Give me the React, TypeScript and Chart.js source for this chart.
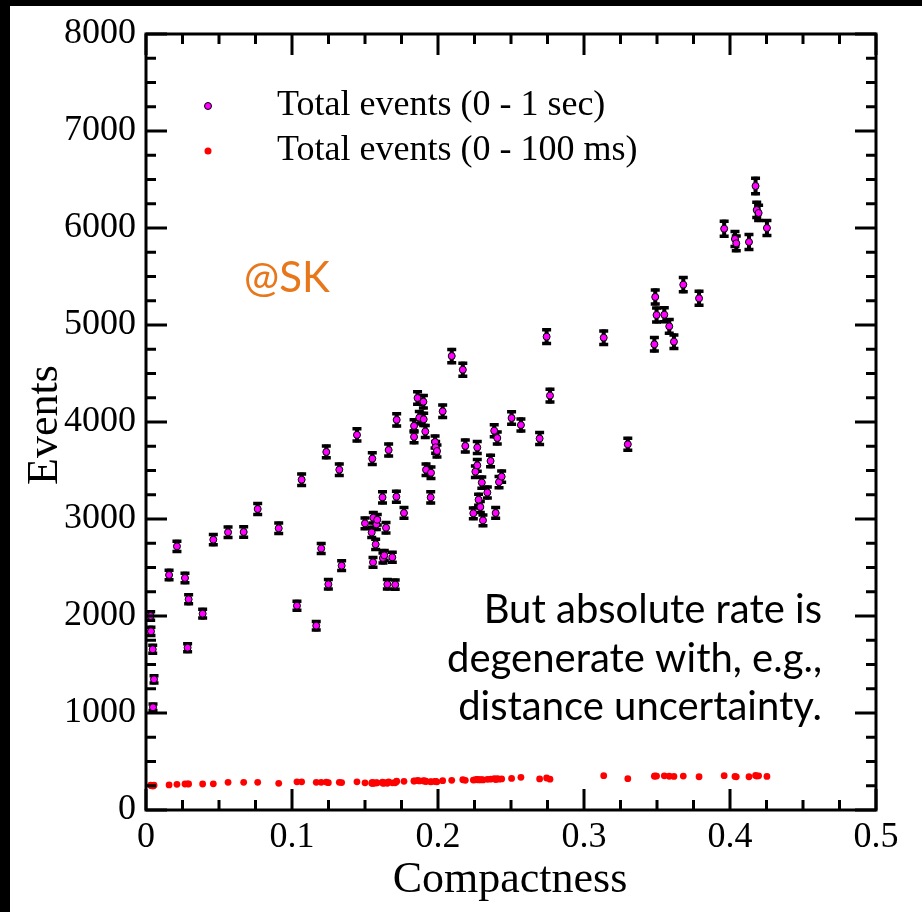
import React, { useEffect, useRef } from "react";
import { Chart, registerables } from "chart.js";

Chart.register(...registerables);

// ---- data ----
const compactness = [
  0.0032, 0.0034, 0.0046, 0.0048, 0.0055, 0.0158, 0.0212, 0.0267, 0.0285, 0.0292,
  0.0388, 0.0461, 0.0562, 0.0669, 0.0765, 0.0909, 0.1034, 0.1066, 0.1166, 0.12,
  0.1235, 0.1249, 0.1324, 0.134, 0.1445, 0.15, 0.1546, 0.155, 0.1555, 0.1557,
  0.1573, 0.1578, 0.1584, 0.162, 0.1623, 0.1632, 0.1644, 0.1653, 0.1662, 0.1687,
  0.1707, 0.1715, 0.1717, 0.1767, 0.1836, 0.1836, 0.186, 0.1872, 0.19, 0.1902,
  0.1913, 0.1918, 0.195, 0.1952, 0.198, 0.1984, 0.1993, 0.2032, 0.2094, 0.217,
  0.2187, 0.2242, 0.2256, 0.2269, 0.2269, 0.2278, 0.229, 0.23, 0.2308, 0.2338,
  0.236, 0.2385, 0.2395, 0.2406, 0.2418, 0.2436, 0.2504, 0.2568, 0.2696, 0.2744,
  0.2767, 0.3135, 0.33, 0.3482, 0.3488, 0.3497, 0.355, 0.3584, 0.3616, 0.368,
  0.3788, 0.396, 0.4034, 0.4043, 0.413, 0.4175, 0.4183, 0.4196, 0.4253,
];

const eventsOneSec = [
  2000, 1842, 1657, 1059, 1347, 2423, 2718, 2392, 1673, 2172,
  2024, 2787, 2863, 2866, 3103, 2904, 2106, 3405, 1900, 2696,
  3691, 2327, 3508, 2519, 3867, 2955, 2862, 3622, 2553, 3013,
  2739, 2945, 2992, 3223, 2598, 2625, 2910, 2327, 3711, 2605,
  2323, 3230, 4022, 3062, 3960, 3847, 4247, 4045, 4209, 4028,
  3902, 3508, 3223, 3477, 3794, 3739, 3701, 4110, 4680, 4539,
  3753, 3059, 3488, 3553, 3737, 3199, 3124, 3376, 2986, 3273,
  3598, 3910, 3062, 3835, 3381, 3437, 4041, 3969, 3830, 4880,
  4272, 4869, 3770, 4801, 5289, 5103, 5106, 4986, 4828, 5416,
  5275, 5993, 5887, 5842, 5856, 6433, 6186, 6155, 6000,
];

const eventsHundredMs = [
  255, 252, 250, 248, 255, 258, 265, 268, 270, 268,
  268, 270, 285, 285, 285, 275, 290, 290, 285, 285,
  288, 282, 285, 283, 290, 280, 276, 284, 274, 280,
  278, 282, 280, 286, 276, 278, 282, 276, 290, 280,
  280, 292, 298, 296, 300, 298, 304, 300, 302, 298,
  300, 294, 290, 292, 296, 294, 290, 302, 306, 312,
  306, 308, 312, 314, 316, 310, 312, 314, 310, 316,
  318, 322, 314, 322, 318, 320, 326, 337, 320, 330,
  318, 354, 323, 348, 352, 350, 352, 348, 346, 350,
  343, 354, 346, 342, 343, 356, 350, 352, 346,
];

const xTickValues = [0, 0.1, 0.2, 0.3, 0.4, 0.5];
const yTickValues = [0, 1000, 2000, 3000, 4000, 5000, 6000, 7000, 8000];
const legendLabels = ["Total events (0 - 1 sec)", "Total events (0 - 100 ms)"];
const xTitle = "Compactness";
const yTitle = "Events";
const watermark = "@SK";
const noteLines = ["But absolute rate is", "degenerate with, e.g.,", "distance uncertainty."];

const SERIF = "'Liberation Serif', 'Times New Roman', serif";
const SANS = "Lato, 'Noto Sans', sans-serif";

const decorPlugin = {
  id: "decor",
  beforeDraw(chart: any) {
    const { ctx, width, height } = chart;
    ctx.save();
    ctx.fillStyle = "#ffffff";
    ctx.fillRect(0, 0, width, height);
    ctx.fillStyle = "#000000";
    ctx.fillRect(0, 0, width, 6);
    ctx.fillRect(0, 0, 10, height);
    ctx.restore();
  },
  beforeDatasetsDraw(chart: any) {
    const { ctx } = chart;
    const xs = chart.scales.x;
    const ys = chart.scales.y;
    ctx.save();
    ctx.strokeStyle = "#000000";
    ctx.lineCap = "butt";
    for (let i = 0; i < compactness.length; i++) {
      const v = eventsOneSec[i];
      const err = Math.sqrt(v); // Poisson statistical error
      const px = xs.getPixelForValue(compactness[i]);
      const yTop = ys.getPixelForValue(v + err);
      const yBot = ys.getPixelForValue(v - err);
      ctx.lineWidth = 4;
      ctx.beginPath();
      ctx.moveTo(px, yTop - 1.5);
      ctx.lineTo(px, yBot + 1.5);
      ctx.stroke();
      ctx.lineWidth = 3.5;
      ctx.beginPath();
      ctx.moveTo(px - 4.5, yTop);
      ctx.lineTo(px + 4.5, yTop);
      ctx.moveTo(px - 4.5, yBot);
      ctx.lineTo(px + 4.5, yBot);
      ctx.stroke();
    }
    ctx.restore();
  },
  afterDraw(chart: any) {
    const { ctx, chartArea } = chart;
    const { left, right, top, bottom } = chartArea;
    const xs = chart.scales.x;
    const ys = chart.scales.y;
    ctx.save();
    // frame
    ctx.strokeStyle = "#000";
    ctx.lineWidth = 3;
    ctx.strokeRect(left, top, right - left, bottom - top);
    // x ticks (inward, top and bottom)
    for (let k = 0; k <= 20; k++) {
      const v = k * 0.025;
      const px = xs.getPixelForValue(v);
      const len = k % 4 === 0 ? 21 : 10;
      ctx.beginPath();
      ctx.moveTo(px, bottom);
      ctx.lineTo(px, bottom - len);
      ctx.moveTo(px, top);
      ctx.lineTo(px, top + len);
      ctx.stroke();
    }
    for (let k = 0; k <= 32; k++) {
      const v = k * 250;
      const py = ys.getPixelForValue(v);
      const len = k % 4 === 0 ? 21 : 10;
      ctx.beginPath();
      ctx.moveTo(left, py);
      ctx.lineTo(left + len, py);
      ctx.moveTo(right, py);
      ctx.lineTo(right - len, py);
      ctx.stroke();
    }
    // axis titles
    ctx.fillStyle = "#000";
    ctx.font = `44px ${SERIF}`;
    ctx.textAlign = "center";
    ctx.textBaseline = "alphabetic";
    ctx.fillText(xTitle, 510, 892);
    ctx.save();
    ctx.translate(57, 425);
    ctx.rotate(-Math.PI / 2);
    ctx.fillText(yTitle, 0, 0);
    ctx.restore();

    // legend
    const ds0 = chart.data.datasets[0];
    const ds1 = chart.data.datasets[1];
    ctx.beginPath();
    ctx.arc(208, 106, 3.5, 0, Math.PI * 2);
    ctx.fillStyle = ds0.backgroundColor;
    ctx.fill();
    ctx.lineWidth = 1;
    ctx.strokeStyle = "#000";
    ctx.stroke();
    ctx.beginPath();
    ctx.arc(208, 151, 3.5, 0, Math.PI * 2);
    ctx.fillStyle = ds1.backgroundColor;
    ctx.fill();
    ctx.fillStyle = "#000";
    ctx.font = `36px ${SERIF}`;
    ctx.textAlign = "left";
    ctx.fillText(legendLabels[0], 277, 115);
    ctx.fillText(legendLabels[1], 277, 160);

    // watermark
    ctx.fillStyle = "#E8761B";
    ctx.font = `42px ${SANS}`;
    ctx.fillText(watermark, 244, 292);

    // note
    ctx.fillStyle = "#000";
    ctx.font = `40px ${SANS}`;
    ctx.textAlign = "right";
    const bases = [623, 672, 720];
    noteLines.forEach((line, i) => ctx.fillText(line, 822, bases[i]));
    ctx.restore();
  },
};

export default function App() {
  const ref = useRef<HTMLCanvasElement | null>(null);
  useEffect(() => {
    if (!ref.current) return;
    const chart = new Chart(ref.current, {
      type: "scatter",
      data: {
        datasets: [
          {
            label: legendLabels[0],
            data: compactness.map((c, i) => ({ x: c, y: eventsOneSec[i] })),
            backgroundColor: "#ff00ff",
            borderColor: "#000000",
            borderWidth: 1,
            pointRadius: 3.5,
            order: 0,
          },
          {
            label: legendLabels[1],
            data: compactness.map((c, i) => ({ x: c, y: eventsHundredMs[i] })),
            backgroundColor: "#ff0000",
            borderColor: "#ff0000",
            borderWidth: 0,
            pointRadius: 3.4,
            order: 1,
          },
        ],
      },
      options: {
        animation: false,
        responsive: false,
        devicePixelRatio: 1,
        layout: { padding: { left: 0, right: 46, top: 34, bottom: 0 } },
        plugins: { legend: { display: false }, tooltip: { enabled: false } },
        scales: {
          x: {
            type: "linear",
            min: 0,
            max: 0.5,
            afterFit: (s: any) => {
              s.height = 102;
            },
            afterBuildTicks: (s: any) => {
              s.ticks = xTickValues.map((v) => ({ value: v }));
            },
            ticks: {
              color: "#000",
              font: { family: SERIF, size: 36 },
              padding: 6,
              maxRotation: 0,
              callback: (v: any) => String(Number(Number(v).toFixed(1))),
            },
            grid: { display: false, drawTicks: false },
            border: { display: false },
          },
          y: {
            type: "linear",
            min: 0,
            max: 8000,
            afterFit: (s: any) => {
              s.width = 146;
            },
            afterBuildTicks: (s: any) => {
              s.ticks = yTickValues.map((v) => ({ value: v }));
            },
            ticks: {
              color: "#000",
              font: { family: SERIF, size: 36 },
              padding: 10,
              callback: (v: any) => String(v),
            },
            grid: { display: false, drawTicks: false },
            border: { display: false },
          },
        },
      },
      plugins: [decorPlugin],
    });
    return () => chart.destroy();
  }, []);
  return (
    <div style={{ position: "fixed", left: 0, top: 0, width: 922, height: 912, background: "#fff" }}>
      <canvas ref={ref} width={922} height={912} style={{ display: "block", width: 922, height: 912 }} />
    </div>
  );
}
